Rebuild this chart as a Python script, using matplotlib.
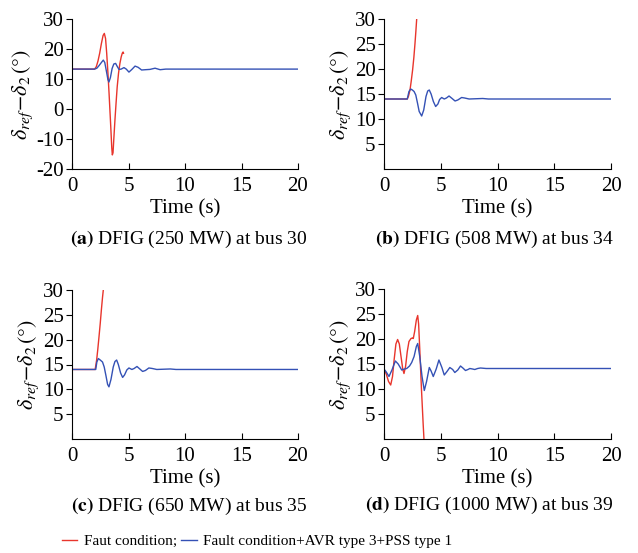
import matplotlib
matplotlib.use("Agg")
import matplotlib.pyplot as plt

plt.rcParams['font.family'] = ['Liberation Serif', 'DejaVu Serif']
plt.rcParams['mathtext.fontset'] = 'stix'
plt.rcParams['axes.unicode_minus'] = False

# (a) DFIG 250 MW at bus 30
t_a_red = [0, 2.0, 2.15, 2.3, 2.45, 2.6, 2.75, 2.86, 2.97, 3.07, 3.18, 3.28, 3.43, 3.52, 3.57,
           3.63, 3.7, 3.8, 3.9, 4.0, 4.12, 4.24, 4.35, 4.45, 4.52, 4.56]
v_a_red = [13.3, 13.3, 14.1, 16.0, 18.6, 21.8, 24.5, 25.2, 23.5, 18.6, 12.0, 5.2, -5.9, -13.0, -15.3,
           -14.6, -10.0, -3.7, 2.0, 7.4, 12.0, 15.2, 17.3, 18.6, 19.0, 18.6]
t_a_blue = [0, 2.0, 2.2, 2.4, 2.6, 2.77, 2.9, 3.05, 3.18, 3.27, 3.4, 3.55, 3.7, 3.86, 4.0, 4.16,
            4.35, 4.6, 4.8, 5.04, 5.3, 5.58, 5.85, 6.16, 6.5, 6.9, 7.35, 7.8, 8.3, 9.0, 20]
v_a_blue = [13.3, 13.3, 13.6, 14.5, 15.5, 16.3, 15.5, 12.5, 9.8, 9.0, 10.5, 13.5, 15.0, 15.2, 14.2, 13.2,
            13.3, 13.8, 13.3, 12.3, 13.2, 14.3, 13.9, 13.0, 13.1, 13.2, 13.6, 13.1, 13.3, 13.3, 13.3]

# (b) DFIG 508 MW at bus 34
t_b_red = [0, 2.05, 2.15, 2.29, 2.4, 2.52, 2.63, 2.73, 2.81, 2.88]
v_b_red = [14, 14, 14.5, 15.8, 17.6, 19.8, 22.3, 25.1, 27.6, 30]
t_b_blue = [0, 2.05, 2.2, 2.35, 2.5, 2.65, 2.8, 2.95, 3.1, 3.32, 3.5, 3.7, 3.85, 3.99, 4.15, 4.35,
            4.55, 4.75, 4.9, 5.08, 5.31, 5.5, 5.73, 6.0, 6.26, 6.5, 6.84, 7.1, 7.5, 8.7, 9.2, 20]
v_b_blue = [14, 14, 15.5, 16.0, 15.8, 15.5, 14.8, 13.2, 11.5, 10.6, 11.8, 14.5, 15.6, 15.8, 15.0, 13.5,
            12.5, 13.0, 13.9, 14.3, 14.0, 14.2, 14.6, 14.1, 13.6, 13.8, 14.3, 14.2, 14.0, 14.1, 14.0, 14.0]

# (c) DFIG 650 MW at bus 35
t_c_red = [0, 2.05, 2.18, 2.28, 2.39, 2.5, 2.6, 2.7, 2.77]
v_c_red = [14, 14, 15.9, 18.0, 20.6, 23.3, 26.0, 28.5, 30]
t_c_blue = [0, 2.1, 2.2, 2.33, 2.5, 2.7, 2.85, 3.0, 3.15, 3.27, 3.45, 3.65, 3.8, 3.95, 4.1, 4.3,
            4.48, 4.65, 4.85, 5.04, 5.3, 5.5, 5.75, 6.0, 6.25, 6.5, 6.8, 7.1, 7.5, 8.7, 9.2, 20]
v_c_blue = [14, 14, 15.5, 16.2, 15.9, 15.5, 14.5, 12.8, 11.0, 10.5, 12.0, 14.5, 15.6, 15.9, 15.0, 13.3,
            12.4, 12.9, 13.9, 14.3, 14.0, 14.2, 14.6, 14.1, 13.6, 13.8, 14.3, 14.2, 14.0, 14.1, 14.0, 14.0]

# (d) DFIG 1000 MW at bus 39
t_d_red = [0, 0.2, 0.4, 0.59, 0.75, 0.9, 1.05, 1.2, 1.35, 1.5, 1.65, 1.76, 1.9, 2.05, 2.2, 2.38,
           2.5, 2.58, 2.7, 2.85, 2.97, 3.05, 3.15, 3.3, 3.45, 3.52]
v_d_red = [13.9, 13.0, 11.5, 10.8, 12.5, 16.0, 19.0, 19.9, 19.0, 16.5, 14.0, 13.1, 14.5, 17.5, 19.5, 20.1,
           20.2, 20.1, 21.5, 23.8, 24.7, 23.0, 18.0, 10.0, 3.0, 0.0]
t_d_blue = [0, 0.2, 0.44, 0.7, 1.0, 1.25, 1.56, 1.8, 2.0, 2.25, 2.44, 2.65, 2.85, 2.97, 3.15, 3.35,
            3.55, 3.75, 3.99, 4.15, 4.34, 4.6, 4.84, 5.1, 5.31, 5.55, 5.8, 6.05, 6.24, 6.5, 6.74,
            6.95, 7.18, 7.4, 7.56, 7.8, 8.0, 8.25, 8.5, 9.0, 20]
v_d_blue = [14.0, 13.4, 12.5, 13.8, 15.6, 15.0, 13.8, 14.0, 14.1, 14.6, 15.3, 16.5, 18.5, 19.1, 16.5, 12.5,
            9.7, 11.5, 14.3, 13.6, 12.5, 14.0, 15.8, 14.3, 12.8, 13.5, 14.3, 13.9, 13.3, 13.8, 14.6,
            14.2, 13.7, 13.9, 14.1, 14.0, 13.9, 14.1, 14.2, 14.1, 14.1]

captions = ['(a)', '(b)', '(c)', '(d)']
caption_text = [' DFIG (250 MW) at bus 30', ' DFIG (508 MW) at bus 34',
                ' DFIG (650 MW) at bus 35', ' DFIG (1000 MW) at bus 39']
red_series = [(t_a_red, v_a_red), (t_b_red, v_b_red), (t_c_red, v_c_red), (t_d_red, v_d_red)]
blue_series = [(t_a_blue, v_a_blue), (t_b_blue, v_b_blue), (t_c_blue, v_c_blue), (t_d_blue, v_d_blue)]

RED = '#e8352c'
BLUE = '#3451b5'

W, H = 638, 553
fig = plt.figure(figsize=(W / 100, H / 100), dpi=100)

# axes boxes in pixels: left, top, right, bottom
boxes = [(72, 19, 298, 169), (384, 19, 611, 169), (72, 290, 298, 439), (384, 289, 611, 439)]
caption_pos = [(189, 239), (494, 239), (189, 506), (489, 505)]

for i in range(4):
    l, t, r, b = boxes[i]
    ax = fig.add_axes([l / W, 1 - b / H, (r - l) / W, (b - t) / H])
    tr, vr = red_series[i]
    tb, vb = blue_series[i]
    ax.plot(tr, vr, color=RED, lw=1.0, label='Faut condition;')
    ax.plot(tb, vb, color=BLUE, lw=1.0, label='Fault condition+AVR type 3+PSS type 1')
    ax.set_xlim(0, 20)
    ax.set_xticks([0, 5, 10, 15, 20])
    if i == 0:
        ax.set_ylim(-20, 30)
        ax.set_yticks([-20, -10, 0, 10, 20, 30])
    else:
        ax.set_ylim(0, 30)
        ax.set_yticks([5, 10, 15, 20, 25, 30])
    ax.spines['top'].set_visible(False)
    ax.spines['right'].set_visible(False)
    ax.tick_params(axis='x', direction='in', length=4, labelsize=15, pad=6)
    ax.tick_params(axis='y', direction='out', length=4, labelsize=15, pad=2)
    ax.set_xlabel('Time (s)', fontsize=15, labelpad=2)
    ax.set_ylabel(r'$\delta_{ref}\!-\!\delta_2\,(°)$', fontsize=16, labelpad=1)
    cx, cy = caption_pos[i]
    fig.text(cx / W, 1 - cy / H, r'$\mathbf{' + captions[i] + '}$' + caption_text[i],
             ha='center', va='center', fontsize=14)
    if i == 2:
        handles, labels = ax.get_legend_handles_labels()

fig.legend(handles, labels, loc='center', bbox_to_anchor=(257 / W, 1 - 541 / H), ncol=2,
           frameon=False, fontsize=11, handlelength=1.0, handletextpad=0.4, columnspacing=0.3)

fig.savefig('out.png', dpi=100)
